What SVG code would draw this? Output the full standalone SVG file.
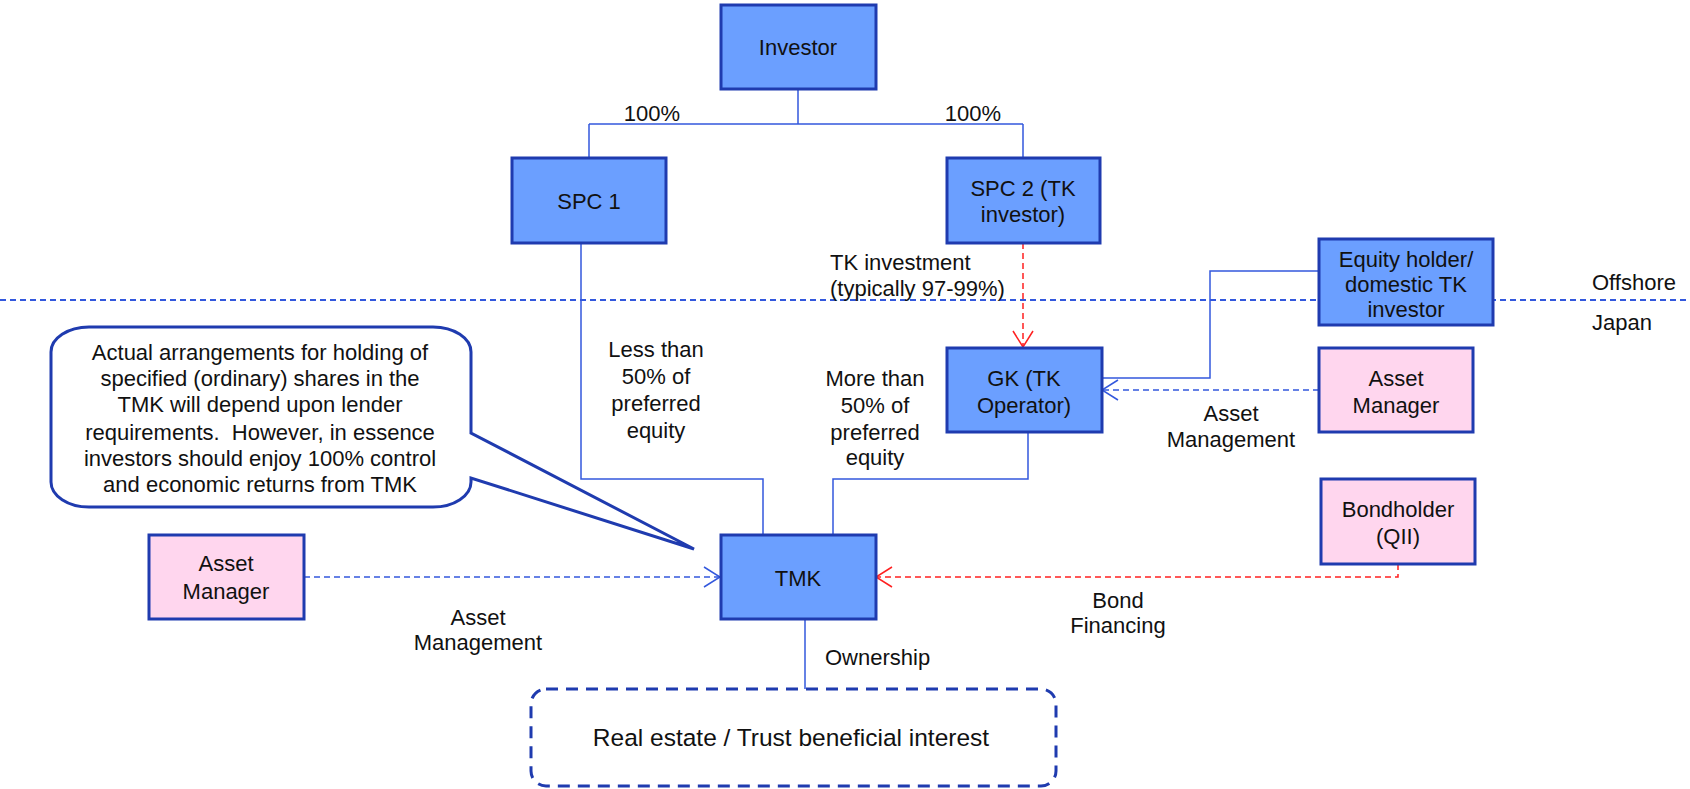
<svg xmlns="http://www.w3.org/2000/svg" width="1690" height="789" viewBox="0 0 1690 789">
<defs>
<style>
text{font-family:"Liberation Sans",Arial,sans-serif;font-size:22px;fill:#111;}
.c{text-anchor:middle;}
.node{fill:#6B9FFF;stroke:#1F3BAF;stroke-width:3;}
.pink{fill:#FFD6EE;stroke:#1F3BAF;stroke-width:3;}
.ln{fill:none;stroke:#3358DD;stroke-width:1.5;}
.dl{fill:none;stroke:#3358DD;stroke-width:1.5;stroke-dasharray:6 4;}
.rd{fill:none;stroke:#FF2020;stroke-width:1.5;stroke-dasharray:6 4;}
</style>
<marker id="ab" viewBox="0 0 18 22" refX="17" refY="11" markerWidth="18" markerHeight="22" markerUnits="userSpaceOnUse" orient="auto">
<path d="M1,1 L17,11 L1,21" fill="none" stroke="#3358DD" stroke-width="1.5"/>
</marker>
<marker id="ar" viewBox="0 0 18 22" refX="17" refY="11" markerWidth="18" markerHeight="22" markerUnits="userSpaceOnUse" orient="auto">
<path d="M1,1 L17,11 L1,21" fill="none" stroke="#FF2020" stroke-width="1.5"/>
</marker>
</defs>
<rect width="1690" height="789" fill="#fff"/>
<path d="M0,300 H1690" fill="none" stroke="#3358DD" stroke-width="2" stroke-dasharray="6 4"/>
<g id="connectors">
<path class="ln" d="M798,89 V124 M589,124 H1023 M589,124 V158 M1023,124 V158"/>
<path class="ln" d="M581,243 V479 H763 V535"/>
<path class="ln" d="M1028,432 V479 H833 V535"/>
<path class="rd" d="M1023,243 V347" marker-end="url(#ar)"/>
<path class="ln" d="M1319,271 H1210 V378 H1102"/>
<path class="dl" d="M1319,390 H1102" marker-end="url(#ab)"/>
<path class="rd" d="M1398,564 V577 H876" marker-end="url(#ar)"/>
<path class="dl" d="M304,577 H720" marker-end="url(#ab)"/>
<path class="ln" d="M805,620 V689"/>
</g>
<g id="investor"><rect class="node" x="721" y="5" width="155" height="84"/><text class="c" x="798" y="55">Investor</text></g>
<g id="spc1"><rect class="node" x="512" y="158" width="154" height="85"/><text class="c" x="589" y="209">SPC 1</text></g>
<g id="spc2"><rect class="node" x="947" y="158" width="153" height="85"/><text class="c" x="1023" y="196">SPC 2 (TK</text><text class="c" x="1023" y="222">investor)</text></g>
<g id="gk"><rect class="node" x="947" y="348" width="155" height="84"/><text class="c" x="1024" y="386">GK (TK</text><text class="c" x="1024" y="413">Operator)</text></g>
<g id="equity-holder"><rect class="node" x="1319" y="239" width="174" height="86"/><text class="c" x="1406" y="267">Equity holder/</text><text class="c" x="1406" y="292">domestic TK</text><text class="c" x="1406" y="317">investor</text></g>
<g id="asset-manager-right"><rect class="pink" x="1319" y="348" width="154" height="84"/><text class="c" x="1396" y="386">Asset</text><text class="c" x="1396" y="413">Manager</text></g>
<g id="bondholder"><rect class="pink" x="1321" y="479" width="154" height="85"/><text class="c" x="1398" y="517">Bondholder</text><text class="c" x="1398" y="544">(QII)</text></g>
<g id="tmk"><rect class="node" x="721" y="535" width="155" height="84"/><text class="c" x="798" y="586">TMK</text></g>
<g id="asset-manager-left"><rect class="pink" x="149" y="535" width="155" height="84"/><text class="c" x="226" y="571">Asset</text><text class="c" x="226" y="599">Manager</text></g>
<g id="real-estate"><rect x="531" y="689" width="525" height="97" rx="15" fill="#fff" stroke="#1F3BAF" stroke-width="3" stroke-dasharray="12 8"/><text class="c" x="791" y="746" style="font-size:24.5px">Real estate / Trust beneficial interest</text></g>
<g id="callout">
<path d="M89,327 H433 A38,25 0 0 1 471,352 V433 L694,549 L471,478 V482 A38,25 0 0 1 433,507 H89 A38,25 0 0 1 51,482 V352 A38,25 0 0 1 89,327 Z" fill="#fff" stroke="#1F3BAF" stroke-width="3"/>
<text class="c" x="260" y="360">Actual arrangements for holding of</text>
<text class="c" x="260" y="386">specified (ordinary) shares in the</text>
<text class="c" x="260" y="412">TMK will depend upon lender</text>
<text class="c" x="260" y="440" xml:space="preserve">requirements.  However, in essence</text>
<text class="c" x="260" y="466">investors should enjoy 100% control</text>
<text class="c" x="260" y="492">and economic returns from TMK</text>
</g>
<g id="labels">
<text class="c" x="652" y="121">100%</text>
<text class="c" x="973" y="121">100%</text>
<text x="830" y="270">TK investment</text>
<text x="830" y="296">(typically 97-99%)</text>
<text class="c" x="656" y="357">Less than</text>
<text class="c" x="656" y="384">50% of</text>
<text class="c" x="656" y="411">preferred</text>
<text class="c" x="656" y="438">equity</text>
<text class="c" x="875" y="386">More than</text>
<text class="c" x="875" y="413">50% of</text>
<text class="c" x="875" y="440">preferred</text>
<text class="c" x="875" y="465">equity</text>
<text class="c" x="1231" y="421">Asset</text>
<text class="c" x="1231" y="447">Management</text>
<text class="c" x="1118" y="608">Bond</text>
<text class="c" x="1118" y="633">Financing</text>
<text class="c" x="478" y="625">Asset</text>
<text class="c" x="478" y="650">Management</text>
<text x="825" y="665">Ownership</text>
<text x="1592" y="290">Offshore</text>
<text x="1592" y="330">Japan</text>
</g>
</svg>
